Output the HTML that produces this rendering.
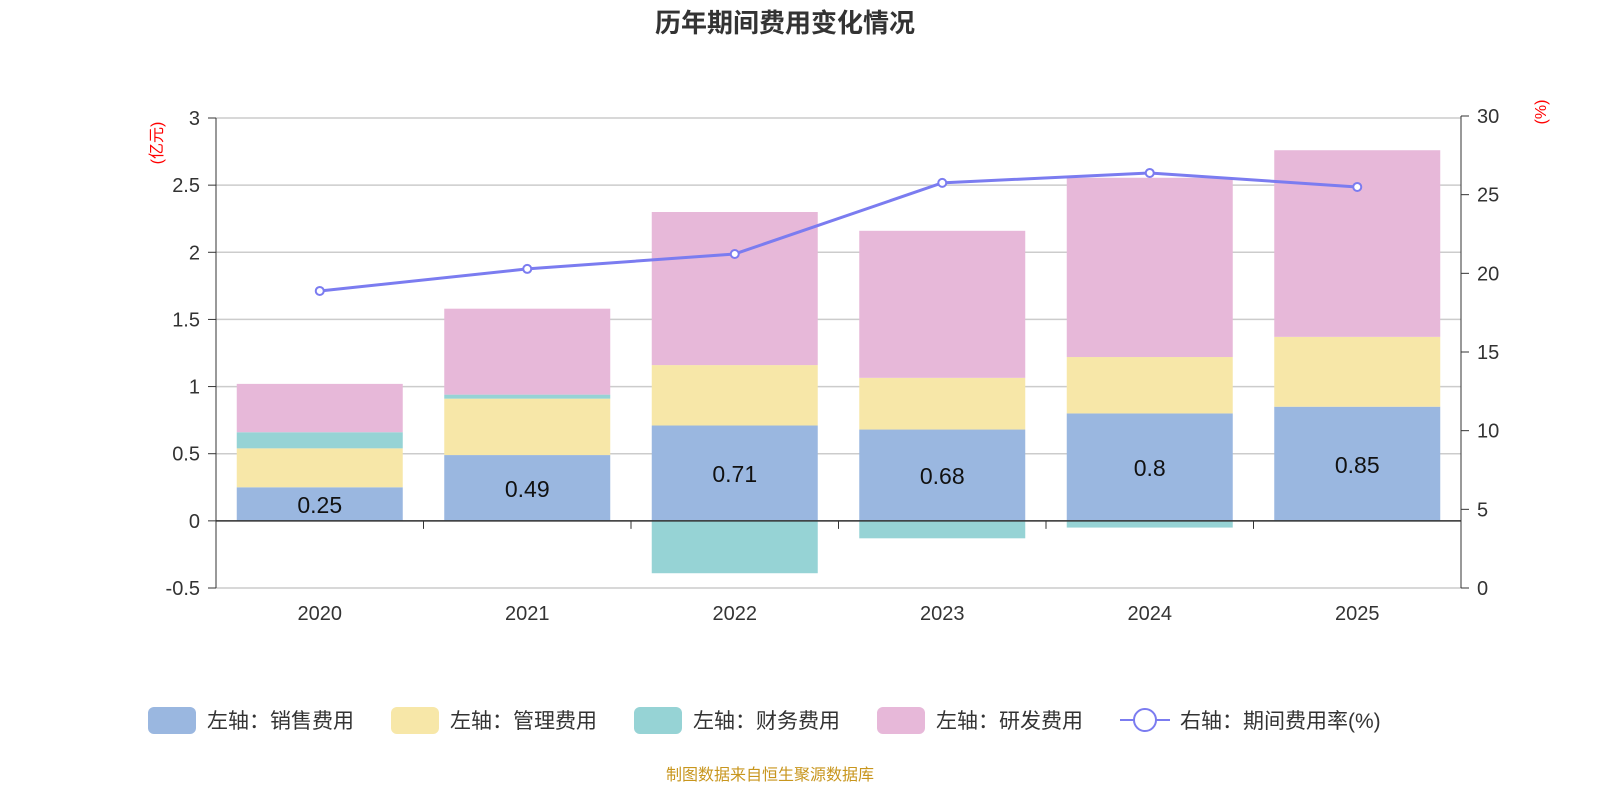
<!DOCTYPE html>
<html><head><meta charset="utf-8"><style>
body{margin:0;background:#fff;}
svg{display:block;font-family:"Liberation Sans","Noto Sans CJK SC",sans-serif;}
</style></head><body>
<svg id="chart" width="1600" height="800">
<text x="785" y="32" text-anchor="middle" font-size="26" font-weight="bold" fill="#333">历年期间费用变化情况</text>
<text x="770" y="780" text-anchor="middle" font-size="16" fill="#c8961e">制图数据来自恒生聚源数据库</text>
<text transform="translate(162,143) rotate(-90)" text-anchor="middle" font-size="16" fill="red">(亿元)</text>
<text transform="translate(1546,112) rotate(-90)" text-anchor="middle" font-size="16" fill="red">(%)</text>
<g id="grid"></g><g id="bars"></g><g id="axes"></g><g id="line"></g><g id="legend"></g>
</svg>
<script>
const categories=["2020","2021","2022","2023","2024","2025"];
const sales=[0.25,0.49,0.71,0.68,0.8,0.85];
const mgmt=[0.29,0.42,0.45,0.385,0.42,0.52];
const finance=[0.12,0.03,-0.39,-0.13,-0.05,-0.005];
const rnd=[0.36,0.64,1.14,1.095,1.335,1.39];
const rate=[18.88,20.28,21.23,25.75,26.38,25.49];
const leftTicks=[-0.5,0,0.5,1,1.5,2,2.5,3];
const rightTicks=[0,5,10,15,20,25,30];
const NS="http://www.w3.org/2000/svg";
const X0=216,X1=1461,Ytop=118,Ybot=588;
const yL=v=>Ybot-(v+0.5)/3.5*(Ybot-Ytop);
const yR=v=>Ybot-v/30*(Ybot-Ytop+2);
const band=(X1-X0)/categories.length;
const xC=i=>X0+band*(i+0.5);
const bw=166;
function mk(tag,attrs,parent,txt){const e=document.createElementNS(NS,tag);for(const k in attrs)e.setAttribute(k,attrs[k]);if(txt!==undefined)e.textContent=txt;document.getElementById(parent).appendChild(e);return e;}
leftTicks.forEach(t=>{
 const g=mk("line",{x1:X0,x2:X1,y1:yL(t),y2:yL(t),stroke:"#ccc","stroke-width":1.5},"grid");
 
 
 const tk=mk("line",{x1:X0-8,x2:X0,y1:yL(t),y2:yL(t),stroke:"#333"},"axes");
 
 
 const l=mk("text",{x:X0-16,y:yL(t)+7,"text-anchor":"end","font-size":20,fill:"#333"},"axes",String(t));
 
 
});
rightTicks.forEach(t=>{
 const tk=mk("line",{x1:X1,x2:X1+8,y1:yR(t),y2:yR(t),stroke:"#333"},"axes");
 
 
 const l=mk("text",{x:X1+16,y:yR(t)+7,"font-size":20,fill:"#333"},"axes",String(t));
 
 
});
const la=mk("line",{x1:X0,x2:X0,y1:Ytop,y2:Ybot,stroke:"#333"},"axes");


const ra=mk("line",{x1:X1,x2:X1,y1:Ytop-2,y2:Ybot,stroke:"#333"},"axes");


const xa=mk("line",{x1:X0,x2:X1,y1:yL(0),y2:yL(0),stroke:"#333","stroke-width":1.5},"axes");


for(let i=0;i<=categories.length;i++){
 const tk=mk("line",{x1:X0+band*i,x2:X0+band*i,y1:yL(0),y2:yL(0)+8,stroke:"#333"},"axes");
 
 
}
const colors=["#9ab7e0","#f7e7a8","#96d3d5","#e7b8d9"];
const series=[sales,mgmt,finance,rnd];
const names=["sales","mgmt","finance","rnd"];
categories.forEach((c,i)=>{
 let pos=0,neg=0;
 series.forEach((s,k)=>{
  const v=s[i];let a,b;
  if(v>=0){a=pos;b=pos+v;pos=b;}else{a=neg;b=neg+v;neg=b;}
  const r=mk("rect",{x:xC(i)-bw/2,width:bw,y:Math.min(yL(a),yL(b)),height:Math.abs(yL(a)-yL(b)),fill:colors[k]},"bars");
  
  
 });
 const l=mk("text",{x:xC(i),y:(yL(0)+yL(sales[i]))/2+9,"text-anchor":"middle","font-size":23,fill:"#111"},"bars",String(sales[i]));
 
 
 const xl=mk("text",{x:xC(i),y:620,"text-anchor":"middle","font-size":20,fill:"#333"},"axes",c);
 
 
});
const pl=mk("polyline",{points:rate.map((v,i)=>xC(i)+","+yR(v)).join(" "),fill:"none",stroke:"#7b7cf0","stroke-width":3},"line");


rate.forEach((v,i)=>{
 const p=mk("circle",{cx:xC(i),cy:yR(v),r:4,fill:"#fff",stroke:"#7b7cf0","stroke-width":2},"line");
 
 
});
const legendX=[148,391,634,877];
const legendT=["左轴：销售费用","左轴：管理费用","左轴：财务费用","左轴：研发费用"];
legendX.forEach((x,k)=>{
 const r=mk("rect",{x:x,y:707,width:48,height:27,rx:6,fill:colors[k]},"legend");
 
 
 const t=mk("text",{x:x+59,y:728,"font-size":21,fill:"#333"},"legend",legendT[k]);
 
 
});
const ll=mk("line",{x1:1120,x2:1170,y1:720,y2:720,stroke:"#7b7cf0","stroke-width":2},"legend");


const lc=mk("circle",{cx:1145,cy:720,r:11,fill:"#fff",stroke:"#7b7cf0","stroke-width":2},"legend");


const lt=mk("text",{x:1180,y:728,"font-size":21,fill:"#333"},"legend","右轴：期间费用率(%)");


</script>
</body></html>
